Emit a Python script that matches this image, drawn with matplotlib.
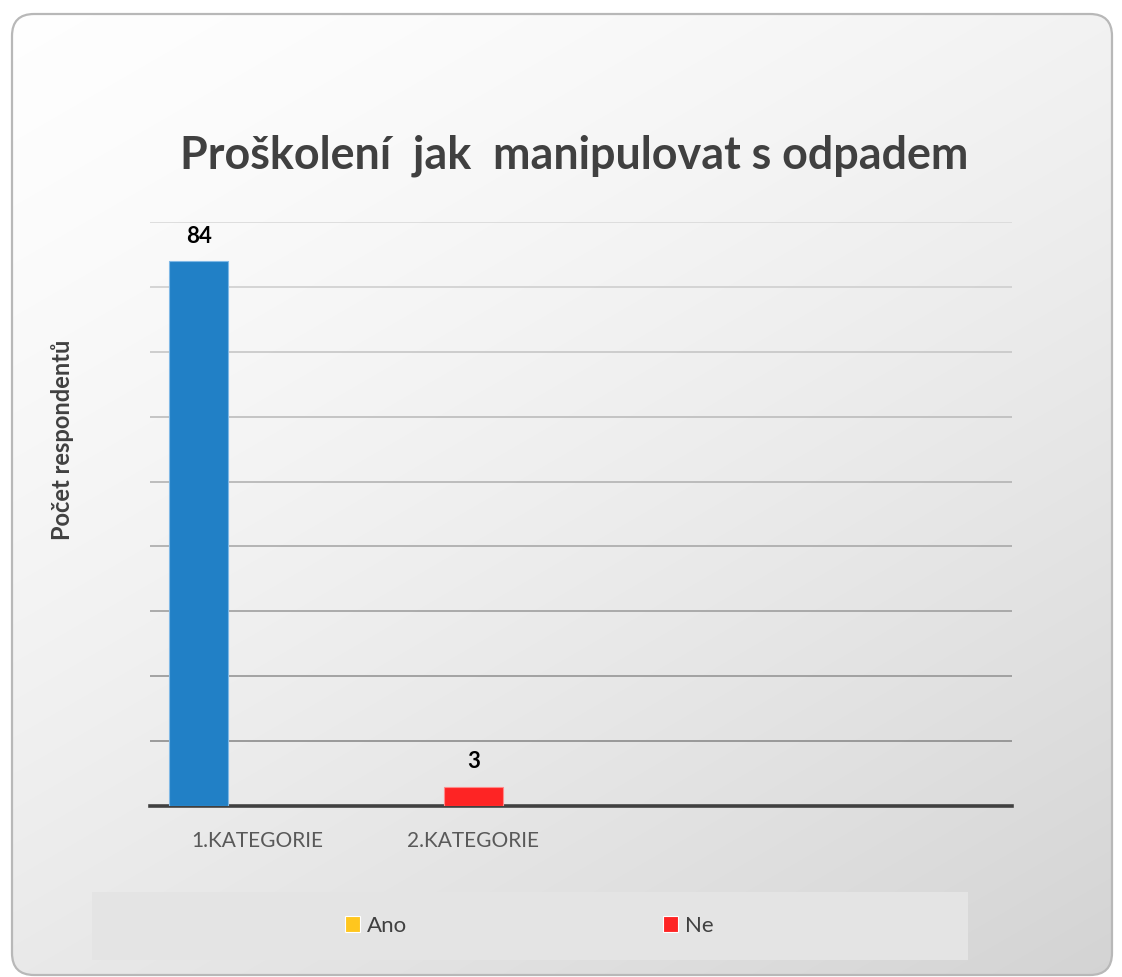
import numpy as np
import matplotlib.pyplot as plt
from matplotlib.patches import FancyBboxPatch, Rectangle

# data
categories = ["1.KATEGORIE", "2.KATEGORIE", "", ""]
series_names = ["Ano", "Ne"]
series_colors = ["#ffc61e", "#fe2424"]
# bars actually drawn: (category index, slot offset, value, colour)
bar_cat = [0, 1]
bar_slot = [-1, 0]
bar_values = [84, 3]
bar_colors = ["#2180c6", "#fe2424"]
bar_edges = ["#7fb8e6", "#ff8a8a"]

W, H = 1122, 977
fig = plt.figure(figsize=(W / 100, H / 100), dpi=100)
fig.patch.set_facecolor("white")

# panel background with a diagonal gradient
bg = fig.add_axes([0, 0, 1, 1])
bg.set_xlim(0, W)
bg.set_ylim(H, 0)
bg.axis("off")
yy, xx = np.mgrid[0:H:4, 0:W:4]
t = (xx / W * 0.4 + yy / H * 0.6)
shade = 0.998 - 0.17 * t ** 1.4
img = np.dstack([shade, shade, shade])
panel = FancyBboxPatch((12, 14), W - 22, H - 16, boxstyle="round,pad=0,rounding_size=22",
                       facecolor="none", edgecolor="#b8b8b8", linewidth=1.6,
                       transform=bg.transData, zorder=3)
bg.add_patch(panel)
im = bg.imshow(img, extent=(0, W, H, 0), aspect="auto", zorder=1, interpolation="bilinear")
im.set_clip_path(panel)

# legend background band
bg.add_patch(Rectangle((92, 892), 876, 68, facecolor="#e4e4e4", edgecolor="none", zorder=2))

ax = fig.add_axes([150 / W, 171 / H, 862 / W, 584 / H])
ax.patch.set_alpha(0)
n = len(categories)
x = np.arange(n)
bw = 0.274
for c, s, v, col, ec in zip(bar_cat, bar_slot, bar_values, bar_colors, bar_edges):
    ax.bar(x[c] + s * bw, v, width=bw, color=col, edgecolor=ec, linewidth=0.8, zorder=3)
    ax.text(x[c] + s * bw, v + 2.2, str(v), ha="center", va="bottom",
            fontsize=16, fontweight="bold", color="black", family="Lato")

ax.set_xlim(-0.5, n - 0.5)
ax.set_ylim(0, 90)
ax.set_yticks(np.arange(10, 91, 10))
ax.tick_params(axis="y", length=0, labelleft=False)
ax.grid(axis="y", linewidth=1.2, zorder=0)
gl = ax.get_ygridlines()
for line, val in zip(gl, np.arange(10, 91, 10)):
    g = 0.55 + 0.30 * (val - 10) / 80
    line.set_color((g, g, g))
ax.set_xticks(x)
ax.set_xticklabels(categories, fontsize=15, color="#595959", family="Lato")
ax.tick_params(axis="x", length=0, pad=18)
for side in ["top", "right", "left"]:
    ax.spines[side].set_visible(False)
ax.spines["bottom"].set_color("#404040")
ax.spines["bottom"].set_linewidth(2.6)

fig.text(63 / W, 1 - 440 / H, "Počet respondentů", rotation=90, ha="center", va="center",
         fontsize=17, fontweight="bold", color="#404040", family="Lato")

fig.text(574 / W, 1 - 156 / H, "Proškolení  jak  manipulovat s odpadem", ha="center",
         va="center", fontsize=32.3, fontweight="bold", color="#404040", family="Lato")

handles = [Rectangle((0, 0), 1, 1, facecolor=c, edgecolor="white", linewidth=0.8) for c in series_colors]
fig.legend(handles, series_names, loc="center", bbox_to_anchor=(529 / W, 1 - 926 / H),
           ncol=2, frameon=False, handlelength=0.7, handleheight=0.7,
           handletextpad=0.3, columnspacing=11.5, labelcolor="#404040",
           prop={"family": "Lato", "size": 16})

fig.savefig("out.png", dpi=100)
